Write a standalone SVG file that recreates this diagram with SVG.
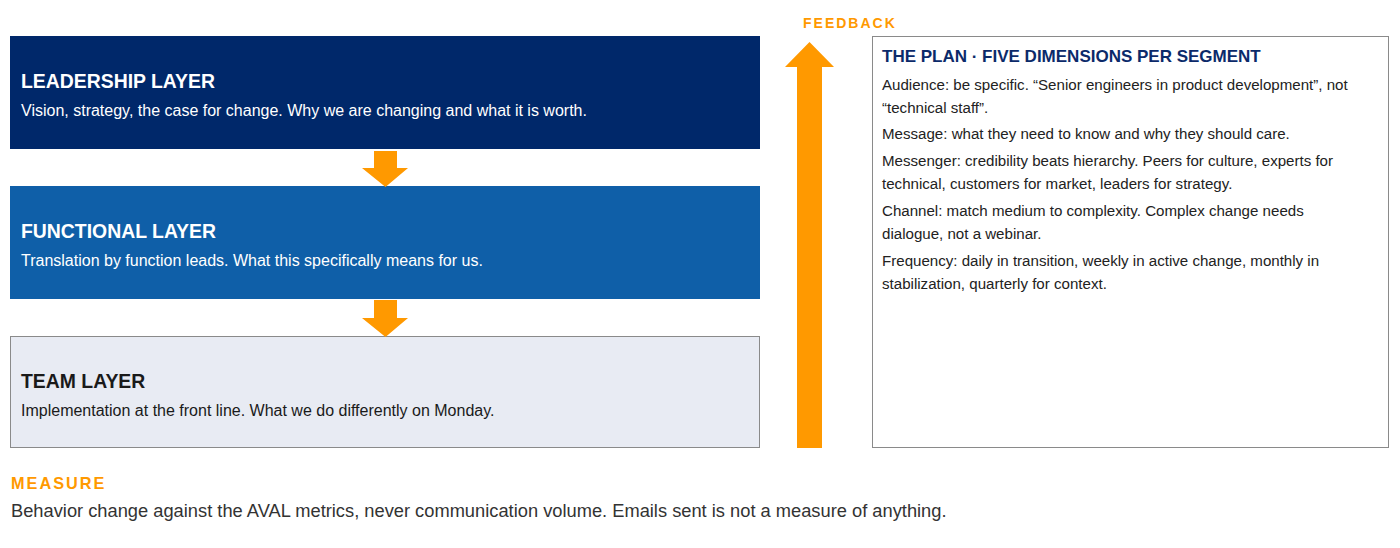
<svg xmlns="http://www.w3.org/2000/svg" width="1400" height="548" viewBox="0 0 1400 548">
<style>
  text { font-family: "Liberation Sans", Arial, sans-serif; }
  .title { font-size: 19.4px; font-weight: bold; }
  .sub { font-size: 16px; }
  .light { fill: #ffffff; }
  .dark { fill: #1a1a1a; }
  .label { font-size: 14px; font-weight: bold; letter-spacing: 2px; fill: #ff9900; }
  .ptitle { font-size: 17px; font-weight: bold; fill: #0b2a6a; }
  .ptext { font-size: 15.1px; fill: #222222; }
</style>
<rect width="1400" height="548" fill="#ffffff"/>

<g id="leadership">
  <rect x="10" y="36" width="750" height="113" fill="#00286a"/>
  <text class="title light" x="21" y="88">LEADERSHIP LAYER</text>
  <text class="sub light" x="21" y="116">Vision, strategy, the case for change. Why we are changing and what it is worth.</text>
</g>

<g id="functional">
  <rect x="10" y="186" width="750" height="113" fill="#0f5fa8"/>
  <text class="title light" x="21" y="238">FUNCTIONAL LAYER</text>
  <text class="sub light" x="21" y="266">Translation by function leads. What this specifically means for us.</text>
</g>

<g id="team">
  <rect x="10.5" y="336.5" width="749" height="111" fill="#e8ebf3" stroke="#8a8a8a" stroke-width="1"/>
  <text class="title dark" x="21" y="388">TEAM LAYER</text>
  <text class="sub dark" x="21" y="416">Implementation at the front line. What we do differently on Monday.</text>
</g>

<g id="plan">
  <rect x="872.5" y="36.5" width="516" height="411" fill="#ffffff" stroke="#8a8a8a" stroke-width="1"/>
  <text class="ptitle" x="882" y="62">THE PLAN · FIVE DIMENSIONS PER SEGMENT</text>
  <text class="ptext" x="882" y="90">Audience: be specific. “Senior engineers in product development”, not</text>
  <text class="ptext" x="882" y="113">“technical staff”.</text>
  <text class="ptext" x="882" y="139">Message: what they need to know and why they should care.</text>
  <text class="ptext" x="882" y="166">Messenger: credibility beats hierarchy. Peers for culture, experts for</text>
  <text class="ptext" x="882" y="189">technical, customers for market, leaders for strategy.</text>
  <text class="ptext" x="882" y="216">Channel: match medium to complexity. Complex change needs</text>
  <text class="ptext" x="882" y="239">dialogue, not a webinar.</text>
  <text class="ptext" x="882" y="266">Frequency: daily in transition, weekly in active change, monthly in</text>
  <text class="ptext" x="882" y="289">stabilization, quarterly for context.</text>
</g>

<g id="feedback-label">
  <text class="label" x="803" y="28">FEEDBACK</text>
</g>

<g id="measure">
  <text class="label" x="11" y="489" style="font-size:16.3px">MEASURE</text>
  <text x="11" y="517" style="font-size:18.3px" fill="#333333">Behavior change against the AVAL metrics, never communication volume. Emails sent is not a measure of anything.</text>
</g>

<g id="connectors" fill="#ff9900">
  <polygon points="374,151 397,151 397,168 408,168 385.5,187 362,168 374,168"/>
  <polygon points="374,300 397,300 397,318 408,318 385.5,337 362,318 374,318"/>
  <polygon points="797,448 822,448 822,67 834,67 809.5,42 785,67 797,67"/>
</g>
</svg>
